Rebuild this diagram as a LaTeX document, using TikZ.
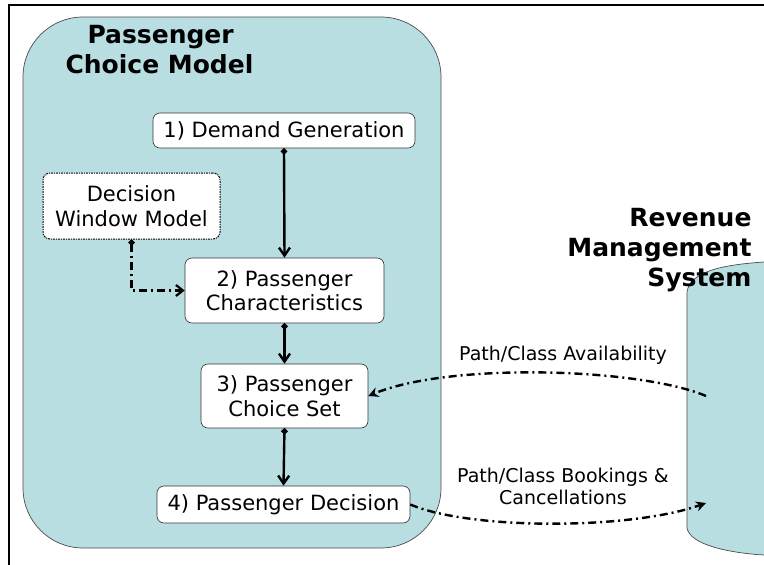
\documentclass[tikz,border=0pt]{standalone}
\usepackage{fontspec}
\setmainfont{DejaVu Sans}
\usetikzlibrary{arrows.meta}
\definecolor{panel}{HTML}{B8DEE2}
\begin{document}
\begin{tikzpicture}[x=1pt,y=-1pt,
  box/.style={draw=black!80, fill=white, rounded corners=7pt, line width=0.6pt,
    align=center, font=\fontsize{21}{24.5}\selectfont, inner sep=0pt},
  flow/.style={line width=2.4pt,
    arrows={Circle[length=6pt]-Straight Barb[length=8pt,width=11pt,line width=2.4pt]}},
  dashdot/.style={line width=2.4pt, dash pattern=on 8pt off 4pt on 2pt off 4pt},
  title/.style={font=\fontsize{25}{30}\selectfont\bfseries},
  label/.style={font=\fontsize{19}{22}\selectfont, align=center}]
\useasboundingbox (0,0) rectangle (764,565);
\fill[white] (0,0) rectangle (764,565);
% frame
\draw[line width=2.5pt] (9,565) -- (9,5) -- (764,5);
% passenger choice model panel
\draw[fill=panel, draw=black!70, line width=0.7pt, rounded corners=60pt]
  (23,17) rectangle (441,548);
% revenue management system panel (cut off at the right)
\draw[fill=panel, draw=black!70, line width=0.7pt]
  (770,262) -- (764,262) .. controls (720,265) and (690,272) .. (687,292)
  -- (687,528) .. controls (690,545) and (730,553) .. (764,555) -- (770,555);
% titles
\node[title, align=left, anchor=north west] (pcm) at (62,22) {\hspace*{22pt}Passenger\\Choice Model};
\node[title, align=right, anchor=north east] (rms) at (755,205) {Revenue\\Management\\System};
% boxes
\node[box, minimum width=262pt, minimum height=35pt] (dg) at (284,130.5) {1) Demand Generation};
\node[box, minimum width=177pt, minimum height=66pt, draw=black, line width=1pt,
  dash pattern=on 2pt off 1pt on 1pt off 1pt] (dw) at (131.5,206) {Decision\\Window Model};
\node[box, minimum width=199pt, minimum height=65pt] (pc) at (284.5,290.5) {2) Passenger\\Characteristics};
\node[box, minimum width=167pt, minimum height=64pt] (cs) at (284.5,396) {3) Passenger\\Choice Set};
\node[box, minimum width=253pt, minimum height=37pt] (pd) at (283.5,504.5) {4) Passenger Decision};
% flow arrows
\draw[flow] (dg.south) -- (pc.north);
\draw[flow] (pc.south) -- (cs.north);
\draw[flow] (cs.south) -- (pd.north);
\coordinate (corner) at (dw.south |- pc.west);
\draw[dashdot, arrows={Circle[length=6pt]-Straight Barb[length=7pt,width=11pt,line width=2.2pt]}]
  (dw.south) -- (corner) -- (pc.west);
% exchanges with the revenue management system
\coordinate (avsrc) at (706,396);
\coordinate (bkdst) at (706,503);
\draw[dashdot, -{Stealth[length=10pt,width=10pt]}]
  (avsrc) .. controls (640,368) and (450,362) .. (cs.east);
\draw[dashdot, -{Stealth[length=10pt,width=10pt]}]
  (pd.east) .. controls (470,530) and (630,530) .. (bkdst);
\node[label] (avl) at (563,355) {Path/Class Availability};
\node[label] (bkl) at (563,486) {Path/Class Bookings \&\\Cancellations};
\end{tikzpicture}
\end{document}
